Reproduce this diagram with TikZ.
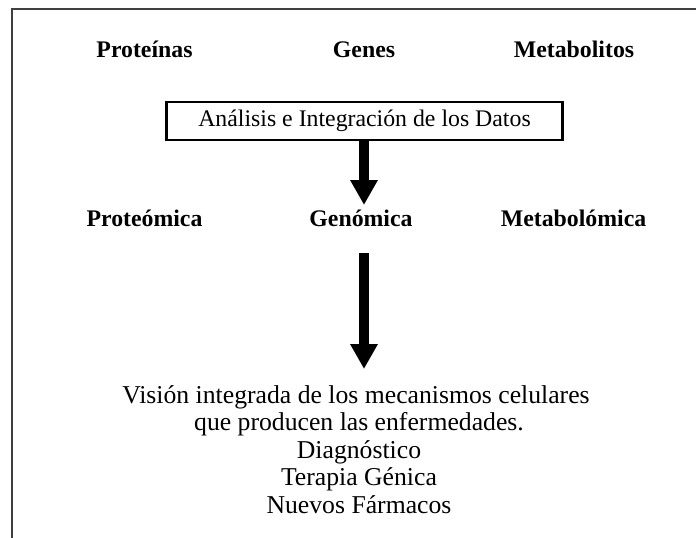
\documentclass[tikz,border=0pt]{standalone}
\usepackage{fontspec}
\setmainfont{Liberation Serif}
\usetikzlibrary{arrows.meta}
\begin{document}
\begin{tikzpicture}[x=1pt,y=-1pt,
  lbl/.style={font=\fontsize{23.8}{27}\selectfont\bfseries, inner sep=0pt, anchor=base},
  txt/.style={font=\fontsize{25.7}{27.5}\selectfont, inner sep=0pt, anchor=base},
  bigarrow/.style={line width=9.5pt, -{Triangle[width=26pt,length=25pt]}}]
\useasboundingbox (0,0) rectangle (696,538);
% clipped frame
\draw[line width=1.3pt, black!75] (12,545) -- (12,9) -- (705,9);
% top labels
\node[lbl] (prot) at (144.5,57) {Proteínas};
\node[lbl] (genes) at (364,57) {Genes};
\node[lbl] (meta) at (574,57) {Metabolitos};
% box
\node[draw, line width=2.3pt, minimum width=396pt, minimum height=38pt, inner sep=0pt,
      font=\fontsize{23.8}{27}\selectfont] (box) at (364.5,121) {Análisis e Integración de los Datos};
% middle labels
\node[lbl] (proteo) at (144.5,226) {Proteómica};
\node[lbl] (genom) at (361,226) {Genómica};
\node[lbl] (metab) at (573.5,226) {Metabolómica};
% arrows
\coordinate (a1s) at (box.south -| 364,0);
\coordinate (a1e) at (364,205);
\draw[bigarrow] (a1s) -- (a1e);
\coordinate (a2s) at (364,253);
\coordinate (a2e) at (364,369);
\draw[bigarrow] (a2s) -- (a2e);
% bottom text
\node[txt] (l1) at (356,403) {Visión integrada de los mecanismos celulares};
\node[txt] (l2) at (359,430.5) {que producen las enfermedades.};
\node[txt] (l3) at (359,458) {Diagnóstico};
\node[txt] (l4) at (359,485.5) {Terapia Génica};
\node[txt] (l5) at (359,513) {Nuevos Fármacos};
\end{tikzpicture}
\end{document}
